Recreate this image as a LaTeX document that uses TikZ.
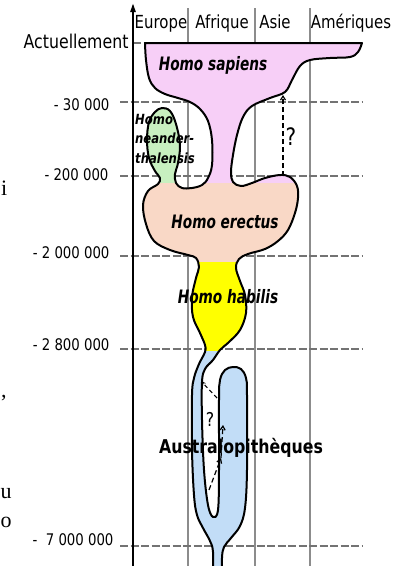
\documentclass[tikz,border=0pt]{standalone}
\usepackage{fontspec}
\setmainfont{DejaVu Sans}[FakeStretch=0.83]
\newfontfamily\speciesfont{DejaVu Sans}[FakeStretch=0.74]
\newfontfamily\pagefont{Liberation Serif}
\usetikzlibrary{arrows.meta}
\definecolor{clrSapiens}{HTML}{F7CFF7}
\definecolor{clrNeander}{HTML}{C8F0C0}
\definecolor{clrErectus}{HTML}{F9D8C6}
\definecolor{clrHabilis}{HTML}{FFFF00}
\definecolor{clrAustralo}{HTML}{C2DDF7}

\begin{document}
\begin{tikzpicture}[x=1pt, y=-1pt,
    grid/.style={black!45, line width=1.3pt},
    timeline/.style={black!55, line width=1.8pt, dash pattern=on 8pt off 2.5pt},
    axis/.style={-{Triangle[length=9pt, width=5pt]}, line width=2.2pt},
    region/.style={anchor=base, font=\fontsize{18}{21}\selectfont},
    datelbl/.style={anchor=base east, font=\fontsize{16}{19}\selectfont},
    species/.style={anchor=base, font=\speciesfont\bfseries\itshape\fontsize{18.5}{21}\selectfont},
    guess/.style={-{Straight Barb[length=4pt, width=5pt]}, line width=1.2pt, dash pattern=on 5pt off 3pt},
    qmark/.style={font=\fontsize{19}{22}\selectfont},
    edgeletter/.style={anchor=base west, inner sep=0pt, font=\pagefont\fontsize{22}{26}\selectfont},
]
\useasboundingbox (0,0) rectangle (406,566);

% grid behind the shapes
\foreach \gx in {188, 255, 310}
    \draw[grid] (\gx,8) -- (\gx,566);
\draw[timeline] (133,43) -- (362,43);
\foreach \gy in {102, 176, 256, 349, 546}
    \draw[timeline] (120,\gy) -- (363,\gy);

% one outline, filled by bands
\path[draw=black, line width=2pt, line join=round,
    path picture={
        \fill[clrSapiens] (130,30) rectangle (370,183);
        \fill[clrNeander] (130,101) rectangle (181,184);
        \fill[clrErectus] (130,183) rectangle (370,262);
        \fill[clrHabilis] (130,262) rectangle (370,351);
        \fill[clrAustralo] (130,351) rectangle (370,580);
    }]
    (145,43) -- plot[smooth, tension=0.6] coordinates {
        (362,43) (358,52) (350,57) (330,58) (310,60) (300,66) (292,80) (285,92)
        (270,98) (252,106) (243,117) (237,135) (233,155) (231,172) (233,182)
        (241,186) (252,183) (265,178) (280,175) (290,177) (297,186) (298,198)
        (295,213) (288,230) (278,241) (265,249) (248,254) (239,259) (236,268)
        (240,281) (245,295) (246,313) (240,330) (229,342) (220,350) (213,360)
        (205,369) (202,382) (202,420) (204,470) (208,505) (213,517) (218,510)
        (219,470) (219,400) (220,380) (225,370) (233,367) (241,369) (246,378)
        (247,395) (247,470) (245,508) (240,526) (231,538) (224,547) (222,558)
        (222,580)}
    -- plot[smooth, tension=0.6] coordinates {
        (213,580) (213,552) (210,541) (203,528) (197,515) (194,495) (192,450)
        (192,395) (194,378) (199,364) (205,352) (205,345) (200,333) (193,317)
        (192,297) (196,278) (199,267) (196,258) (188,255) (170,250) (154,241)
        (146,224) (143,205) (148,191) (158,184) (160,178) (155,171) (149,158)
        (147,140) (149,122) (155,112) (162,108) (170,111) (176,124) (180,145)
        (178,163) (175,174) (176,183) (182,188) (192,188) (202,185) (208,178)
        (212,165) (212,140) (208,121) (200,109) (190,102) (178,98) (165,94)
        (155,88) (149,78) (146,60) (145,43)}
    -- cycle;

% time axis
\draw[axis] (133,566) -- (133,3);

% places
\node[region] (europe) at (161,28) {Europe};
\node[region] (afrique) at (222,28) {Afrique};
\node[region] (asie) at (275,28) {Asie};
\node[region] (ameriques) at (351,28) {Amériques};
\node[anchor=base east, font=\fontsize{19}{22}\selectfont] (now) at (132,48) {Actuellement};

% dates
\node[datelbl] (d30k) at (113,110) {- 30 000};
\node[datelbl] (d200k) at (112,180) {- 200 000};
\node[datelbl] (d2m) at (113,258) {- 2 000 000};
\node[datelbl] (d28m) at (113,350) {- 2 800 000};
\node[datelbl] (d7m) at (117,545) {-\ \ 7 000 000};

% species
\node[species] (sapiens) at (213,70) {Homo sapiens};
\node[species] (erectus) at (225,228) {Homo erectus};
\node[species] (habilis) at (228,303) {Homo habilis};
\node[anchor=base, font=\bfseries\fontsize{19}{22}\selectfont] (australo) at (241,453) {Australopithèques};
\node[anchor=north west, align=left, inner sep=0pt,
    font=\bfseries\itshape\fontsize{14}{19.5}\selectfont] (neander) at (135,114) {Homo\\neander-\\thalensis};

% uncertain migrations
\coordinate (erectustop) at (283,176);
\coordinate (sapiensbase) at (283,95);
\draw[guess] (erectustop) -- (sapiensbase);
\node[qmark, font=\fontsize{24}{26}\selectfont] (qasie) at (291,137) {?};

\coordinate (lobetop) at (217,398);
\coordinate (strandtop) at (201,381);
\draw[-{Stealth[length=5pt, width=4pt]}, line width=1.1pt, dash pattern=on 4pt off 3pt] (lobetop) -- (strandtop);
\coordinate (strandlow) at (209,490);
\coordinate (lobemid) at (221,458);
\coordinate (lobehigh) at (223,425);
\draw[guess] (strandlow) -- (lobemid);
\draw[guess] (lobemid) -- (lobehigh);
\node[qmark] (qafrique) at (210,419) {?};

% letters at the left edge
\node[edgeletter] (edgei) at (1,195) {i};
\node[edgeletter] (edgecomma) at (1,397) {,};
\node[edgeletter] (edgeu) at (0.5,498) {u};
\node[edgeletter] (edgeo) at (0.5,527) {o};

\end{tikzpicture}
\end{document}
